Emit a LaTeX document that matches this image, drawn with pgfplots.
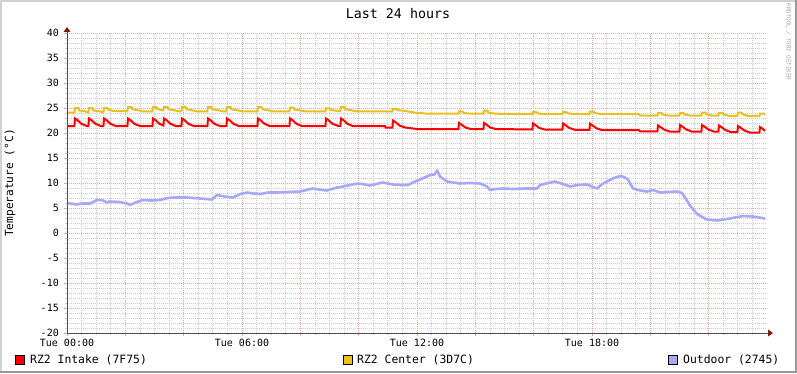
\documentclass[border=0pt]{standalone}
\usepackage{fontspec}
\setmainfont{DejaVu Sans Mono}
\usepackage{pgfplots}
\pgfplotsset{compat=1.18}
\definecolor{cred}{RGB}{255,0,0}
\definecolor{cyel}{RGB}{234,192,32}
\definecolor{cblue}{RGB}{168,168,248}
\definecolor{mgrid}{RGB}{226,170,170}
\definecolor{ngrid}{RGB}{205,205,205}
\definecolor{axcol}{RGB}{80,80,80}
\definecolor{arrcol}{RGB}{128,24,24}
\begin{document}
\begin{tikzpicture}[x=1bp,y=1bp]
\fill[white] (0,0) rectangle (797,373);
\fill[black!18] (0,371) rectangle (797,373);
\fill[black!18] (0,0) rectangle (2,373);
\fill[black!40] (795,0) rectangle (797,373);
\fill[black!40] (0,0) rectangle (797,2);
\begin{axis}[
  at={(67bp,40bp)}, anchor=south west,
  width=700bp, height=300bp, scale only axis,
  xmin=0, xmax=24, ymin=-20, ymax=40,
  axis x line*=bottom, axis y line*=left,
  axis line style={draw=none},
  xtick={0,2,...,22},
  xticklabels={Tue 00:00,,,Tue 06:00,,,Tue 12:00,,,Tue 18:00,,},
  minor xtick={0,0.5,...,23.5},
  ytick={-20,-15,...,40},
  yticklabels={-20,-15,-10,-5,0,5,10,15,20,25,30,35,40},
  minor ytick={-20,-19,...,40},
  grid=both,
  major grid style={mgrid, dash pattern=on 1bp off 1bp, line width=0.8bp},
  minor grid style={ngrid, dash pattern=on 1bp off 1bp, line width=0.8bp},
  tick align=outside,
  major tick length=3bp, minor tick length=2bp,
  major tick style={mgrid, line width=0.8bp},
  minor tick style={ngrid, line width=0.8bp},
  tick label style={font=\fontsize{10bp}{12bp}\selectfont, inner sep=0pt},
  xticklabel style={anchor=north, yshift=-3bp},
  yticklabel style={anchor=east, xshift=-5bp},
  /pgf/number format/assume math mode=true,
  clip=false,
]
\addplot[cblue, line width=2.6bp, line join=round] coordinates {
(0,6.0)(0.34,5.7)(0.5,5.9)(0.79,5.9)(1.03,6.6)(1.2,6.6)(1.37,6.1)(1.47,6.3)(1.8,6.2)(2.06,5.9)(2.16,5.6)(2.4,6.2)(2.61,6.6)(2.9,6.5)(3.19,6.6)(3.45,7.0)(3.7,7.1)(4.1,7.1)(4.56,6.9)(4.97,6.7)(5.14,7.6)(5.4,7.3)(5.69,7.1)(5.95,7.8)(6.17,8.1)(6.4,7.9)(6.62,7.8)(6.9,8.1)(7.2,8.1)(7.6,8.2)(7.99,8.3)(8.2,8.6)(8.43,8.9)(8.65,8.7)(8.91,8.5)(9.2,9.0)(9.46,9.3)(9.7,9.6)(9.98,9.9)(10.2,9.7)(10.39,9.5)(10.6,9.8)(10.83,10.1)(11.0,9.9)(11.18,9.7)(11.45,9.6)(11.69,9.6)(11.9,10.2)(12.1,10.7)(12.3,11.2)(12.45,11.6)(12.6,11.7)(12.69,12.5)(12.79,11.3)(13.03,10.3)(13.25,10.1)(13.47,9.9)(13.8,10.0)(14.16,9.9)(14.4,9.3)(14.5,8.6)(14.7,8.8)(14.95,8.9)(15.3,8.8)(15.7,8.9)(16.11,8.9)(16.22,9.6)(16.5,10.0)(16.73,10.3)(17.0,9.8)(17.25,9.3)(17.5,9.6)(17.83,9.7)(18.17,8.9)(18.35,9.8)(18.51,10.3)(18.75,11.0)(18.96,11.4)(19.1,11.2)(19.23,10.7)(19.41,8.9)(19.65,8.5)(19.89,8.3)(20.09,8.6)(20.33,8.1)(20.6,8.2)(20.91,8.3)(21.09,8.0)(21.2,7.0)(21.36,5.5)(21.6,3.8)(21.94,2.7)(22.29,2.5)(22.5,2.7)(22.73,2.9)(23.18,3.4)(23.52,3.3)(23.93,2.9)
};
\addplot[cyel, line width=2bp] coordinates {
(0,24.1)(0.254,24.1)(0.274,25.0)(0.394,25.0)(0.424,24.5)(0.624,24.35)(0.734,24.1)
(0.754,25.0)(0.874,25.0)(0.904,24.5)(1.104,24.35)(1.249,24.15)
(1.269,25.0)(1.389,25.0)(1.419,24.6)(1.619,24.4)(2.071,24.35)
(2.091,25.2)(2.211,25.2)(2.241,24.75)(2.441,24.55)(2.591,24.35)
(2.929,24.35)(2.949,25.2)(3.069,25.2)(3.099,24.75)(3.299,24.55)
(3.326,25.2)(3.446,25.2)(3.476,24.75)(3.676,24.55)(3.826,24.35)
(3.923,24.35)(3.943,25.2)(4.063,25.2)(4.093,24.75)(4.293,24.55)(4.443,24.35)
(4.814,24.35)(4.834,25.2)(4.954,25.2)(4.984,24.75)(5.184,24.55)(5.334,24.35)
(5.466,24.35)(5.486,25.2)(5.606,25.2)(5.636,24.75)(5.836,24.55)(5.986,24.35)
(6.529,24.35)(6.549,25.2)(6.669,25.2)(6.699,24.75)(6.899,24.55)(7.049,24.35)
(7.626,24.35)(7.646,25.1)(7.766,25.1)(7.796,24.7)(7.996,24.5)(8.146,24.35)
(8.860,24.35)(8.880,24.95)(9.0,24.95)(9.03,24.6)(9.23,24.45)
(9.374,24.4)(9.394,25.25)(9.514,25.25)(9.544,24.75)(9.744,24.55)(9.894,24.35)
(11.157,24.35)(11.177,24.85)(11.297,24.85)(11.327,24.6)(11.6,24.4)(11.9,24.1)(12.3,23.9)
(13.42,23.9)(13.44,24.35)(13.56,24.35)(13.59,24.0)(13.8,23.9)
(14.277,23.85)(14.297,24.5)(14.417,24.5)(14.447,24.05)(14.65,23.9)(14.8,23.85)
(15.957,23.8)(15.977,24.2)(16.097,24.2)(16.127,23.95)(16.3,23.8)
(16.986,23.8)(17.006,24.2)(17.126,24.2)(17.156,23.95)(17.35,23.8)
(17.911,23.8)(17.931,24.3)(18.051,24.3)(18.081,24.0)(18.3,23.8)
(19.6,23.8)(19.65,23.5)(20.243,23.5)(20.263,24.0)(20.383,24.0)(20.413,23.7)(20.6,23.5)
(20.997,23.5)(21.017,24.0)(21.137,24.0)(21.167,23.7)(21.35,23.5)
(21.751,23.5)(21.771,24.1)(21.891,24.1)(21.921,23.75)(22.1,23.5)
(22.334,23.5)(22.354,24.0)(22.474,24.0)(22.504,23.7)(22.7,23.45)
(22.986,23.45)(23.006,24.1)(23.126,24.1)(23.156,23.75)(23.35,23.4)
(23.74,23.4)(23.76,23.9)(23.88,23.9)(23.93,23.7)
};
\addplot[cred, line width=2bp] coordinates {
(0,21.4)(0.254,21.4)(0.274,22.9)(0.354,22.6)(0.494,21.85)(0.674,21.4)
(0.734,21.4)(0.754,22.9)(0.834,22.6)(0.974,21.85)(1.154,21.4)
(1.249,21.4)(1.269,22.9)(1.349,22.6)(1.489,21.85)(1.669,21.4)
(2.071,21.4)(2.091,22.9)(2.171,22.6)(2.311,21.85)(2.491,21.4)
(2.929,21.4)(2.949,22.9)(3.029,22.6)(3.169,21.85)(3.306,21.5)
(3.326,22.9)(3.406,22.6)(3.546,21.85)(3.726,21.4)
(3.923,21.4)(3.943,22.9)(4.023,22.6)(4.163,21.85)(4.343,21.4)
(4.814,21.4)(4.834,22.9)(4.914,22.6)(5.054,21.85)(5.234,21.4)
(5.466,21.4)(5.486,22.9)(5.566,22.6)(5.706,21.85)(5.886,21.4)
(6.529,21.4)(6.549,22.9)(6.629,22.6)(6.769,21.85)(6.949,21.4)
(7.626,21.4)(7.646,22.9)(7.726,22.6)(7.866,21.85)(8.046,21.4)
(8.860,21.4)(8.880,22.9)(8.960,22.6)(9.100,21.85)(9.280,21.45)
(9.374,21.4)(9.394,22.9)(9.474,22.6)(9.614,21.85)(9.794,21.4)
(10.9,21.4)(10.92,21.1)(11.157,21.1)(11.177,22.5)(11.257,22.2)(11.397,21.5)(11.6,21.1)(12.0,20.8)
(13.42,20.8)(13.44,22.0)(13.52,21.7)(13.66,21.1)(13.84,20.8)
(14.277,20.8)(14.297,22.0)(14.377,21.7)(14.517,21.1)(14.697,20.8)
(15.957,20.7)(15.977,21.9)(16.057,21.6)(16.197,21.0)(16.377,20.7)
(16.986,20.7)(17.006,21.9)(17.086,21.6)(17.226,21.0)(17.406,20.65)
(17.911,20.65)(17.931,21.85)(18.011,21.55)(18.151,20.95)(18.331,20.6)
(19.6,20.6)(19.65,20.35)(20.243,20.35)(20.263,21.5)(20.343,21.2)(20.483,20.65)(20.663,20.3)
(20.997,20.3)(21.017,21.6)(21.097,21.3)(21.237,20.7)(21.417,20.3)
(21.751,20.3)(21.771,21.6)(21.851,21.3)(21.991,20.7)(22.171,20.3)
(22.334,20.3)(22.354,21.5)(22.434,21.2)(22.574,20.6)(22.754,20.2)
(22.986,20.2)(23.006,21.4)(23.086,21.1)(23.226,20.5)(23.406,20.1)
(23.74,20.1)(23.76,21.2)(23.84,20.9)(23.93,20.4)
};
\end{axis}
% axes with arrows
\draw[axcol, line width=1bp] (67,40) -- (769,40);
\draw[axcol, line width=1bp] (67,40) -- (67,342);
\fill[arrcol] (773,40) -- (768,43.5) -- (768,36.5) -- cycle;
\fill[arrcol] (67,346) -- (63.5,341) -- (70.5,341) -- cycle;
% texts
\node[font=\fontsize{13.3bp}{15bp}\selectfont] at (398,359) {Last 24 hours};
\node[rotate=90, font=\fontsize{11.2bp}{13bp}\selectfont] at (10,190) {Temperature (°C)};
\node[rotate=-90, text=black!33, font=\fontsize{5.8bp}{7bp}\selectfont] at (788.5,331) {RRDTOOL / TOBI OETIKER};
% legend
\filldraw[fill=cred, draw=black, line width=0.8bp] (15,8.5) rectangle (24,17.5);
\node[anchor=west, inner sep=0pt, font=\fontsize{11.4bp}{13bp}\selectfont] at (30,13) {RZ2 Intake (7F75)};
\filldraw[fill=cyel, draw=black, line width=0.8bp] (343,8.5) rectangle (352,17.5);
\node[anchor=west, inner sep=0pt, font=\fontsize{11.4bp}{13bp}\selectfont] at (357,13) {RZ2 Center (3D7C)};
\filldraw[fill=cblue, draw=black, line width=0.8bp] (668,8.5) rectangle (677,17.5);
\node[anchor=west, inner sep=0pt, font=\fontsize{11.4bp}{13bp}\selectfont] at (683,13) {Outdoor (2745)};
\end{tikzpicture}
\end{document}
